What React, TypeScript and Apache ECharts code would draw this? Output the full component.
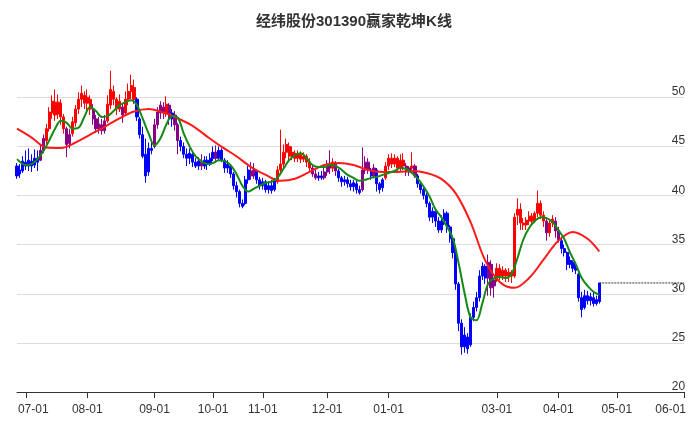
import React, { useEffect, useRef } from "react";
import * as echarts from "echarts";

const TITLE = "经纬股份301390赢家乾坤K线";

// trading calendar (category axis)
const FIRST_DAY = "2023-06-28";
const LAST_DAY = "2024-06-03";
const CLOSED_DAYS = [
  "2023-09-29", "2023-10-02", "2023-10-03", "2023-10-04", "2023-10-05", "2023-10-06",
  "2024-01-01", "2024-02-09", "2024-02-12", "2024-02-13", "2024-02-14", "2024-02-15",
  "2024-02-16", "2024-04-04", "2024-04-05",
];
const MONTH_TICKS = ["07-01", "08-01", "09-01", "10-01", "11-01", "12-01", "01-01", "03-01", "04-01", "05-01", "06-01"];

// daily candles: [open, close, low, high]
const OHLC: number[][] = [
  [43.0,42.0,41.7,43.3],[42.2,42.6,41.8,43.2],[42.5,43.5,42.3,44.0],[43.4,43.0,42.6,44.6],[43.0,43.6,42.5,44.8],
  [43.5,43.0,42.4,44.2],[43.1,43.8,42.8,44.7],[43.8,43.4,42.5,44.6],[43.6,44.6,43.5,45.2],[44.6,45.8,44.3,46.2],
  [45.6,46.8,45.2,47.3],[46.8,48.5,46.5,49.0],[48.4,49.6,47.8,50.2],[49.5,48.2,47.6,50.8],[48.3,49.5,47.8,50.3],
  [49.4,48.0,47.2,49.8],[48.0,46.8,46.3,48.3],[46.8,45.2,43.9,47.0],[45.3,46.2,44.8,46.8],[46.3,47.5,46.0,48.0],
  [47.4,48.8,47.0,49.2],[48.8,49.8,48.3,50.5],[49.8,50.4,49.0,51.2],[50.2,49.4,48.8,50.6],[49.4,50.0,48.6,50.8],
  [49.8,48.8,48.2,50.2],[48.8,47.8,47.2,49.3],[47.8,46.8,46.4,48.2],[46.8,47.3,46.3,48.0],[47.2,46.6,46.2,47.8],
  [46.6,47.6,46.3,48.2],[47.6,49.3,47.4,50.2],[49.2,50.8,48.8,52.7],[50.6,49.8,49.2,51.2],[49.8,48.8,48.2,50.0],
  [48.8,49.6,48.5,50.3],[49.0,48.2,47.4,49.4],[48.4,49.8,48.2,50.6],[49.8,50.6,49.2,51.4],[50.6,51.2,49.8,52.3],
  [51.0,49.8,49.3,51.8],[49.8,48.0,47.6,50.0],[47.8,46.2,45.8,48.0],[46.2,44.0,43.8,47.0],[44.2,42.0,41.3,45.8],
  [42.4,44.8,42.0,45.4],[44.8,44.6,44.2,45.6],[45.0,47.2,44.8,47.8],[47.2,48.5,46.8,49.0],[48.4,49.2,47.8,49.6],
  [49.0,48.4,47.8,49.5],[48.4,49.3,48.0,50.1],[49.2,47.8,47.2,49.4],[47.8,48.4,47.0,48.8],[48.2,47.2,46.6,48.6],
  [47.2,45.6,44.2,47.4],[45.6,45.0,44.5,46.0],[45.0,44.2,43.8,45.4],[44.2,43.8,43.0,44.8],[43.8,44.3,43.2,44.8],
  [44.2,43.4,42.9,44.5],[43.4,43.0,42.8,43.8],[43.0,43.5,42.6,43.9],[43.4,43.0,42.6,44.2],[43.0,43.6,42.7,44.0],
  [43.6,43.2,42.6,44.0],[43.2,43.8,43.0,44.3],[43.8,44.4,43.5,45.0],[44.4,43.8,43.4,45.1],[43.8,44.6,43.5,45.0],
  [44.6,43.6,43.4,44.8],[43.6,42.8,42.3,43.8],[42.8,43.2,42.3,43.6],[43.0,42.2,41.8,43.2],[42.2,41.0,40.6,42.4],
  [41.0,40.4,39.8,41.4],[40.4,39.2,38.8,40.6],[39.2,38.9,38.7,39.6],[39.2,41.6,39.0,42.0],[41.6,42.6,41.2,43.0],
  [42.5,42.0,41.6,43.4],[42.0,42.6,41.7,43.3],[42.4,41.6,41.2,42.6],[41.6,41.0,40.6,41.9],[41.0,41.4,40.6,41.8],
  [41.4,40.6,40.3,41.6],[40.6,41.0,40.2,41.4],[41.0,40.5,40.2,41.6],[40.6,41.5,40.4,41.8],[41.4,42.6,41.2,43.0],
  [42.6,43.2,42.2,46.7],[43.2,44.4,42.8,45.2],[44.4,45.2,43.8,45.8],[45.0,44.0,43.4,45.4],[44.0,44.4,43.6,45.0],
  [44.3,43.8,43.4,44.6],[43.8,44.2,43.4,44.6],[44.2,43.7,43.3,44.5],[43.7,44.0,43.4,44.4],[44.0,43.4,42.9,44.2],
  [43.4,42.8,42.4,43.8],[42.8,42.2,41.9,43.2],[42.2,41.8,41.6,42.6],[41.8,42.0,41.5,42.4],[42.0,41.8,41.6,42.5],
  [41.8,42.4,41.6,43.0],[42.4,43.2,42.0,43.6],[43.2,42.8,42.2,44.6],[42.8,43.4,42.4,43.8],[43.2,42.5,42.0,43.5],
  [42.5,41.8,41.4,42.7],[41.8,41.4,40.9,42.0],[41.4,41.6,41.0,42.0],[41.6,41.2,40.8,41.9],[41.2,40.9,40.5,41.6],
  [40.9,41.3,40.4,41.6],[41.2,40.6,40.2,41.5],[40.6,40.3,40.1,41.0],[40.6,42.6,40.4,44.9],[42.6,43.4,42.2,44.0],
  [43.4,42.6,42.2,43.8],[42.6,42.0,41.6,42.8],[42.0,42.8,41.8,43.2],[42.6,41.2,40.4,42.8],[41.2,40.6,40.2,41.4],
  [40.8,41.6,40.4,41.8],[41.8,43.0,41.6,43.4],[43.0,43.8,42.6,44.2],[43.8,43.2,42.8,44.3],[43.2,43.8,42.9,44.2],
  [43.8,42.8,42.4,44.0],[42.8,43.6,42.4,44.2],[43.6,43.0,42.6,44.3],[43.0,42.4,42.0,43.3],[42.4,42.8,42.0,43.0],
  [42.8,43.0,42.4,44.4],[43.0,42.0,41.8,43.2],[42.0,41.2,40.8,42.2],[41.2,40.6,40.2,41.4],[40.6,40.0,39.6,40.8],
  [40.0,39.2,38.8,40.3],[39.2,37.8,37.4,39.4],[37.8,38.4,37.2,38.8],[38.4,37.4,36.8,38.6],[37.4,36.5,36.2,37.8],
  [36.5,37.4,36.2,38.0],[37.4,38.2,37.0,38.6],[38.2,36.8,36.2,38.4],[36.8,35.6,35.2,37.0],[35.6,34.2,33.6,35.8],
  [34.2,31.0,30.4,34.4],[31.0,27.0,26.2,31.2],[27.0,24.6,23.8,27.4],[24.6,25.8,24.0,26.6],[25.6,24.4,23.9,26.0],
  [24.8,27.6,24.6,28.0],[27.6,28.6,27.2,29.2],[28.6,29.6,28.2,30.2],[29.6,31.8,29.2,32.4],[31.8,32.8,31.4,33.2],
  [32.8,31.6,31.0,33.0],[31.6,33.2,29.8,34.0],[33.0,30.6,29.8,33.4],[30.8,31.4,29.6,31.6],[31.4,32.6,31.2,33.1],
  [32.6,31.8,31.4,33.0],[31.8,32.4,31.4,32.8],[32.4,31.8,31.2,32.6],[31.8,32.2,31.2,32.6],[32.2,31.8,31.1,32.4],
  [31.8,37.8,31.6,38.2],[38.0,38.6,37.0,39.7],[38.6,37.2,36.5,39.2],[37.2,37.0,36.5,37.7],[37.0,37.5,36.5,37.8],
  [37.4,37.9,37.0,38.4],[37.9,37.4,37.1,38.2],[37.4,38.2,37.2,38.4],[38.2,39.2,37.8,40.5],[39.2,38.0,37.6,39.5],
  [38.0,37.4,36.8,38.4],[37.4,36.2,35.4,37.6],[36.2,37.2,35.8,37.5],[37.2,37.6,36.8,38.0],[37.4,36.4,35.7,37.8],
  [36.4,35.5,35.2,36.8],[35.4,34.6,34.1,35.8],[34.6,34.2,33.8,35.0],[34.2,33.0,32.4,34.3],[33.0,33.4,32.6,33.8],
  [33.2,32.6,32.2,33.4],[32.6,32.4,32.0,33.1],[32.0,29.6,29.2,32.2],[29.6,28.4,27.6,30.2],[28.6,29.8,28.4,30.4],
  [29.8,29.3,28.9,30.3],[29.3,29.7,28.8,30.1],[29.6,29.0,28.7,30.2],[29.0,29.4,28.8,29.8],[29.2,31.1,29.0,31.1],
];

// per-candle signal: r = strong (red), p = neutral (purple), b = weak (blue)
const SIGNAL =
  "bbbbbbbb" + "pp" + "rrrrrrr" + "pp" + "rrrrrrr" + "ppppp" + "rrrrr" + "p" + "rrrr" +
  "bbbbbb" + "pppp" + "r" + "pbpp" + "bbbbbbb" + "p" + "bbbb" + "p" + "bbbbbbbbbbb" +
  "pp" + "bbbbbbb" + "rrrrrrrrrrrr" + "pp" + "bb" + "ppp" + "r" + "p" + "bbbbbbbb" +
  "ppp" + "b" + "p" + "bbb" + "rrrrrrr" + "pp" + "r" + "p" +
  "bbbbbbbbbbbbbbbbbbbbbbbb" + "ppp" + "rrrrrrrrrrrrrrrrr" + "p" + "rr" + "pp" + "bbbbbbbbbbbbbb";

// long line (red), read at candle indices
const RED_IDX = [0,5,10,15,20,25,30,35,40,45,50,55,60,65,70,75,80,85,90,95,100,105,110,115,120,125,130,135,140,145,150,155,160,165,170,175,180,185,190,195,199];
const RED_VAL = [46.8,45.9,44.9,44.85,45.4,46.2,47.0,47.85,48.55,48.8,48.45,47.85,47.1,46.0,44.95,44.0,42.9,42.1,41.5,41.7,42.4,43.1,43.3,43.1,42.6,42.4,42.4,42.5,42.3,41.7,40.2,37.3,33.4,31.2,30.6,31.6,33.5,35.4,36.3,35.6,34.3];

// short line (green), read at candle indices
const GREEN_IDX = [0,3,5,7,9,11,13,15,17,19,21,23,25,27,29,31,33,35,37,39,41,43,45,47,49,51,53,55,57,59,61,63,65,67,69,71,73,75,77,79,81,83,85,87,89,91,93,95,97,99,101,103,105,107,109,111,113,115,117,119,121,123,125,127,129,131,133,135,137,139,141,143,145,147,149,151,153,155,157,159,161,163,165,167,169,171,173,175,177,179,181,183,185,187,189,191,193,195,197,199];
const GREEN_VAL = [43.7,43.1,43.2,43.7,44.5,45.6,46.8,47.6,47.4,46.8,46.9,48.0,49.0,48.6,48.0,48.1,48.6,49.2,49.5,49.7,49.2,47.8,46.3,45.1,45.8,47.2,48.1,47.9,46.3,45.0,44.0,43.5,43.2,43.3,43.6,43.5,43.1,42.2,41.0,40.4,40.7,41.0,41.3,41.4,41.8,42.7,43.6,44.1,44.3,43.8,43.1,42.9,42.9,43.1,43.0,42.6,42.1,41.8,41.5,41.6,41.8,41.9,42.1,42.3,42.5,42.8,42.7,42.3,41.7,40.9,39.9,38.6,37.8,36.8,35.6,33.0,30.0,27.6,27.3,29.0,31.0,31.6,31.7,31.6,32.0,33.6,35.5,36.7,37.4,37.8,37.7,37.3,36.5,35.6,34.2,33.0,31.6,30.8,30.2,29.9];

const SIGNAL_COLORS: Record<string, string> = { r: "#ff0000", p: "#880088", b: "#0000ff" };

function buildDates(): string[] {
  const closed = new Set(CLOSED_DAYS);
  const out: string[] = [];
  const d = new Date(FIRST_DAY + "T00:00:00Z");
  const end = new Date(LAST_DAY + "T00:00:00Z");
  while (d.getTime() <= end.getTime()) {
    const iso = d.toISOString().slice(0, 10);
    const wd = d.getUTCDay();
    if (wd !== 0 && wd !== 6 && !closed.has(iso)) out.push(iso);
    d.setUTCDate(d.getUTCDate() + 1);
  }
  return out;
}

export default function App() {
  const ref = useRef<HTMLDivElement>(null);
  useEffect(() => {
    if (!ref.current) return;
    const chart = echarts.init(ref.current, null, { renderer: "svg" });
    const dates = buildDates();
    const tickLabel: Record<number, string> = {};
    for (let i = 1; i < dates.length; i++) {
      const m = dates[i].slice(5, 7);
      if (m !== dates[i - 1].slice(5, 7)) {
        const lab = m + "-01";
        if (MONTH_TICKS.includes(lab)) tickLabel[i] = lab;
      }
    }
    const tickIdx = Object.keys(tickLabel).map(Number);
    const firstTick = Math.min(...tickIdx);
    const lastTick = Math.max(...tickIdx);
    const isTick = (i: number) => tickLabel[i] !== undefined;

    const candles = OHLC.map((v, i) => {
      const c = SIGNAL_COLORS[SIGNAL[i]] || "#0000ff";
      return { value: v, itemStyle: { color: c, color0: c, borderColor: c, borderColor0: c, borderColorDoji: c } };
    });
    const lastIdx = OHLC.length - 1;
    const lastClose = OHLC[lastIdx][1];
    const font = '"Liberation Sans", Arial, "Noto Sans CJK SC", sans-serif';

    chart.setOption({
      animation: false,
      title: {
        text: TITLE,
        left: 256,
        top: 13,
        padding: 0,
        textStyle: { fontSize: 15, fontWeight: "bold", color: "#333", fontFamily: font },
      },
      grid: { left: 17, right: 4, top: 58, bottom: 35 },
      xAxis: {
        type: "category",
        data: dates,
        boundaryGap: false,
        axisLine: { lineStyle: { color: "#333", width: 1 } },
        axisTick: { interval: (i: number) => isTick(i), length: 6, lineStyle: { color: "#333" } },
        axisLabel: {
          interval: (i: number) => isTick(i),
          margin: 11,
          color: "#333",
          fontSize: 12,
          fontFamily: font,
          formatter: (_v: string, i: number) => {
            const t = tickLabel[i] || "";
            if (i === firstTick) return "{first|" + t + "}";
            if (i === lastTick) return "{last|" + t + "}";
            return t;
          },
          rich: {
            first: { padding: [0, 0, 0, 15], fontSize: 12, color: "#333", fontFamily: font },
            last: { padding: [0, 27, 0, 0], fontSize: 12, color: "#333", fontFamily: font },
          },
        },
        splitLine: { show: false },
      },
      yAxis: {
        type: "value",
        position: "right",
        min: 20,
        max: 54,
        interval: 5,
        axisLine: { show: false },
        axisTick: { show: false },
        axisLabel: {
          inside: true,
          margin: -1,
          verticalAlign: "bottom",
          color: "#333",
          fontSize: 12,
          fontFamily: font,
          showMaxLabel: false,
        },
        splitLine: { show: true, showMaxLine: false, lineStyle: { color: "#dddddd", width: 1 } },
      },
      series: [
        {
          type: "candlestick",
          data: candles,
          barWidth: 2.6,
          itemStyle: { borderWidth: 1 },
        },
        {
          type: "line",
          data: RED_IDX.map((x, k) => [x, RED_VAL[k]]),
          smooth: 0.35,
          symbol: "none",
          lineStyle: { color: "#ff1a1a", width: 2 },
        },
        {
          type: "line",
          data: GREEN_IDX.map((x, k) => [x, GREEN_VAL[k]]),
          smooth: 0.35,
          symbol: "none",
          lineStyle: { color: "#138a13", width: 2 },
        },
        {
          type: "line",
          data: [[lastIdx, lastClose], [dates.length - 1, lastClose]],
          symbol: "none",
          lineStyle: { color: "#333", width: 1, type: [2, 1] },
        },
      ],
    });
    return () => chart.dispose();
  }, []);
  return <div ref={ref} style={{ position: "fixed", left: 0, top: 0, width: 689, height: 427 }} />;
}
